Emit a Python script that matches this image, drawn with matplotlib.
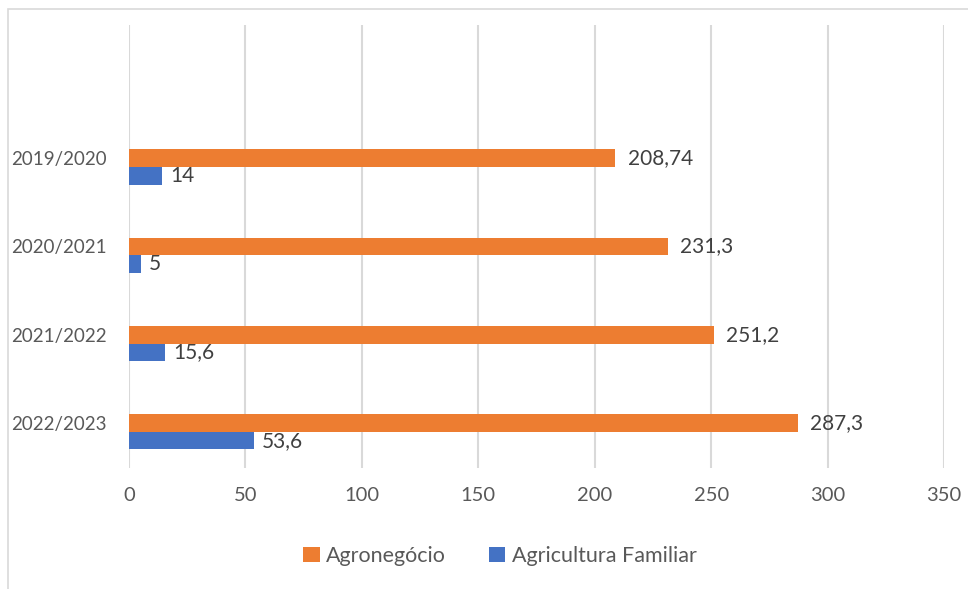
import matplotlib

matplotlib.use('agg')

import matplotlib.pyplot as plt
import matplotlib.transforms as mtransforms
from matplotlib.patches import Rectangle
import numpy as np

# data
categories = ['2022/2023', '2021/2022', '2020/2021', '2019/2020']
agronegocio = [287.3, 251.2, 231.3, 208.74]
agricultura_familiar = [53.6, 15.6, 5, 14]
xticks = [0, 50, 100, 150, 200, 250, 300, 350]

orange = '#ED7D31'
blue = '#4472C4'

plt.rcParams['font.family'] = ['Lato', 'DejaVu Sans']

fig = plt.figure(figsize=(9.68, 5.89), dpi=100)
ax = fig.add_axes([129 / 968, 1 - 468 / 589, (944 - 129) / 968, (468 - 25) / 589])

y = np.arange(len(categories))
h = 0.2
b1 = ax.barh(y + h / 2, agronegocio, height=h, color=orange, label='Agronegócio')
b2 = ax.barh(y - h / 2, agricultura_familiar, height=h, color=blue, label='Agricultura Familiar')


def fmt(v):
    return f'{v:g}'.replace('.', ',')


ax.bar_label(b1, labels=[fmt(v) for v in agronegocio], padding=9, fontsize=15, color='#404040')
ax.bar_label(b2, labels=[fmt(v) for v in agricultura_familiar], padding=6, fontsize=15, color='#404040')

# empty room on top, like the original
ax.set_ylim(-0.41, 4.61)
ax.set_xlim(0, 350)
ax.set_yticks(y, categories)
ax.set_xticks(xticks, [str(t) for t in xticks])

ax.grid(axis='x', color='#d9d9d9', linewidth=1.5)
ax.set_axisbelow(True)
for s in ax.spines.values():
    s.set_visible(False)
ax.tick_params(axis='both', length=0, labelsize=13.5, labelcolor='#595959')
ax.tick_params(axis='x', labelsize=14.5, pad=14)
ax.tick_params(axis='y', pad=16)

# category labels sit a little above the middle of their group
shift = mtransforms.ScaledTranslation(0, 9 / 100, fig.dpi_scale_trans)
for lbl in ax.get_yticklabels():
    lbl.set_transform(lbl.get_transform() + shift)

fig.legend(loc='center', bbox_to_anchor=(500 / 968, 1 - 556 / 589), ncol=2, frameon=False,
           fontsize=15.5, handlelength=0.75, handleheight=0.75, handletextpad=0.3,
           columnspacing=2.0, labelcolor='#595959')

# light chart border
fig.add_artist(Rectangle((8 / 968, -0.1), 2, 1 - 9 / 589 + 0.1, transform=fig.transFigure,
                         fill=False, edgecolor='#d9d9d9', linewidth=1.2))

plt.savefig('out.png', dpi=100)
